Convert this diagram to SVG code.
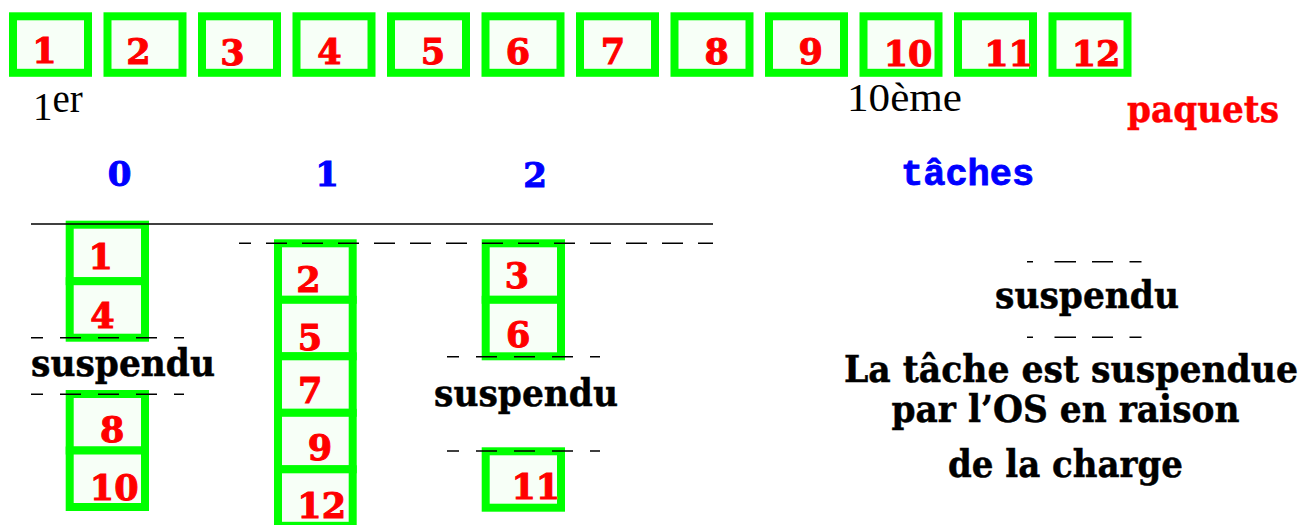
<svg xmlns="http://www.w3.org/2000/svg" width="1316" height="525" viewBox="0 0 1316 525">
  <style>
    .box { fill: #f7fff7; stroke: #00ff00; stroke-width: 8; }
    .num { font-family: "DejaVu Serif", "Liberation Serif", serif; font-weight: bold; font-size: 35px; fill: #ff0000; stroke: #ff0000; stroke-width: 1; text-anchor: middle; }
    .task { font-family: "DejaVu Serif", "Liberation Serif", serif; font-weight: bold; font-size: 34px; fill: #0000ff; stroke: #0000ff; stroke-width: 1; text-anchor: middle; }
    .bold { font-family: "DejaVu Serif", "Liberation Serif", serif; font-weight: bold; font-size: 38px; fill: #000000; stroke: #000000; stroke-width: 0.5; }
    .red { fill: #ff0000; stroke: #ff0000; }
    .plain { font-family: "Liberation Serif", "Times New Roman", serif; font-size: 39px; fill: #000000; }
    .mono { font-family: "Liberation Mono", "Courier New", monospace; font-weight: bold; font-size: 37px; fill: #0000ff; stroke: #0000ff; stroke-width: 0.8; }
    .rule { stroke: #000000; stroke-width: 1.5; fill: none; }
    .dash { stroke: #000000; stroke-width: 1.5; fill: none; stroke-dasharray: 21 15; stroke-dashoffset: 9; }
    .dash-s { stroke: #000000; stroke-width: 1.5; fill: none; stroke-dasharray: 21 17; stroke-dashoffset: 9; }
    .dash-l { stroke: #000000; stroke-width: 1.5; fill: none; stroke-dasharray: 6 21.5 21.5 16 21 16.5 12 200; }
  </style>

  <!-- incoming packets, in arrival order -->
  <g id="packets">
    <g id="packet-1"><rect class="box" x="13" y="16.3" width="75" height="56.5"/><text class="num" x="44.5" y="63">1</text></g>
    <g id="packet-2"><rect class="box" x="107.5" y="16.3" width="75" height="56.5"/><text class="num" x="138.5" y="64">2</text></g>
    <g id="packet-3"><rect class="box" x="202" y="16.3" width="75" height="56.5"/><text class="num" x="232.5" y="65">3</text></g>
    <g id="packet-4"><rect class="box" x="296.5" y="16.3" width="75" height="56.5"/><text class="num" x="329.5" y="63.5">4</text></g>
    <g id="packet-5"><rect class="box" x="391" y="16.3" width="75" height="56.5"/><text class="num" x="433" y="63.5">5</text></g>
    <g id="packet-6"><rect class="box" x="485.5" y="16.3" width="75" height="56.5"/><text class="num" x="518" y="64">6</text></g>
    <g id="packet-7"><rect class="box" x="580" y="16.3" width="75" height="56.5"/><text class="num" x="613" y="63.5">7</text></g>
    <g id="packet-8"><rect class="box" x="674.5" y="16.3" width="75" height="56.5"/><text class="num" x="716.7" y="64">8</text></g>
    <g id="packet-9"><rect class="box" x="769" y="16.3" width="75" height="56.5"/><text class="num" x="810.8" y="64">9</text></g>
    <g id="packet-10"><rect class="box" x="863.5" y="16.3" width="75" height="56.5"/><text class="num" x="908" y="65.7">10</text></g>
    <g id="packet-11"><rect class="box" x="958" y="16.3" width="75" height="56.5"/><text class="num" x="1008.5" y="65.7">11</text></g>
    <g id="packet-12"><rect class="box" x="1052.5" y="16.3" width="75" height="56.5"/><text class="num" x="1096" y="65.7">12</text></g>
  </g>

  <g id="labels">
    <text class="plain" x="33" y="120">1<tspan dy="-8">er</tspan></text>
    <text class="plain" x="847" y="111" textLength="115" lengthAdjust="spacingAndGlyphs">10ème</text>
    <text class="bold red" x="1127" y="121.7" textLength="152" lengthAdjust="spacingAndGlyphs">paquets</text>
    <text class="mono" x="901" y="185">tâches</text>
    <text class="task" x="119.5" y="186">0</text>
    <text class="task" x="327" y="186">1</text>
    <text class="task" x="535" y="186.5">2</text>
  </g>

  <!-- task 0 -->
  <g id="task-0">
    <rect class="box" x="69.7" y="224.7" width="75.3" height="56.5"/>
    <rect class="box" x="69.7" y="281.2" width="75.3" height="56.5"/>
    <text class="num" x="100.7" y="269.3">1</text>
    <text class="num" x="102.5" y="328.3">4</text>
    <rect class="box" x="69.7" y="394" width="75.3" height="56.5"/>
    <rect class="box" x="69.7" y="450.5" width="75.3" height="56.5"/>
    <text class="num" x="112.3" y="441.7">8</text>
    <text class="num" x="114.2" y="500">10</text>
    <text class="bold" x="31" y="376" textLength="184" lengthAdjust="spacingAndGlyphs">suspendu</text>
  </g>

  <!-- task 1 -->
  <g id="task-1">
    <rect class="box" x="278" y="243.3" width="74.7" height="56.5"/>
    <rect class="box" x="278" y="299.8" width="74.7" height="56.5"/>
    <rect class="box" x="278" y="356.3" width="74.7" height="56.5"/>
    <rect class="box" x="278" y="412.8" width="74.7" height="56.5"/>
    <rect class="box" x="278" y="469.3" width="74.7" height="56.5"/>
    <text class="num" x="308.5" y="291.7">2</text>
    <text class="num" x="310" y="350">5</text>
    <text class="num" x="310.3" y="403.3">7</text>
    <text class="num" x="320" y="460">9</text>
    <text class="num" x="321.7" y="518.3">12</text>
  </g>

  <!-- task 2 -->
  <g id="task-2">
    <rect class="box" x="485.7" y="243.3" width="75.3" height="56.5"/>
    <rect class="box" x="485.7" y="299.8" width="75.3" height="56.5"/>
    <text class="num" x="517" y="287.7">3</text>
    <text class="num" x="518.2" y="346.7">6</text>
    <rect class="box" x="485.7" y="451.3" width="75.3" height="56.4"/>
    <text class="num" x="535.8" y="499.3">11</text>
    <text class="bold" x="434" y="406" textLength="184" lengthAdjust="spacingAndGlyphs">suspendu</text>
  </g>

  <!-- legend -->
  <g id="legend">
    <text class="bold" x="995" y="308.3" textLength="184" lengthAdjust="spacingAndGlyphs">suspendu</text>
    <text class="bold" x="844" y="381.7" textLength="454" lengthAdjust="spacingAndGlyphs">La tâche est suspendue</text>
    <text class="bold" x="891.5" y="422" textLength="348" lengthAdjust="spacingAndGlyphs">par l’OS en raison</text>
    <text class="bold" x="948" y="477.3" textLength="235" lengthAdjust="spacingAndGlyphs">de la charge</text>
  </g>

  <!-- timeline rules and suspension markers -->
  <g id="connectors">
    <line class="rule" x1="31" y1="224" x2="713" y2="224"/>
    <line class="dash" x1="239" y1="243.3" x2="713" y2="243.3"/>
    <line class="dash-s" x1="31" y1="337.7" x2="184" y2="337.7"/>
    <line class="dash-s" x1="31" y1="394.3" x2="184" y2="394.3"/>
    <line class="dash-s" x1="447" y1="356.7" x2="600" y2="356.7"/>
    <line class="dash-s" x1="447" y1="451" x2="600" y2="451"/>
    <line class="dash-l" x1="1027" y1="261.7" x2="1142" y2="261.7"/>
    <line class="dash-l" x1="1027" y1="337.3" x2="1142" y2="337.3"/>
  </g>
</svg>
